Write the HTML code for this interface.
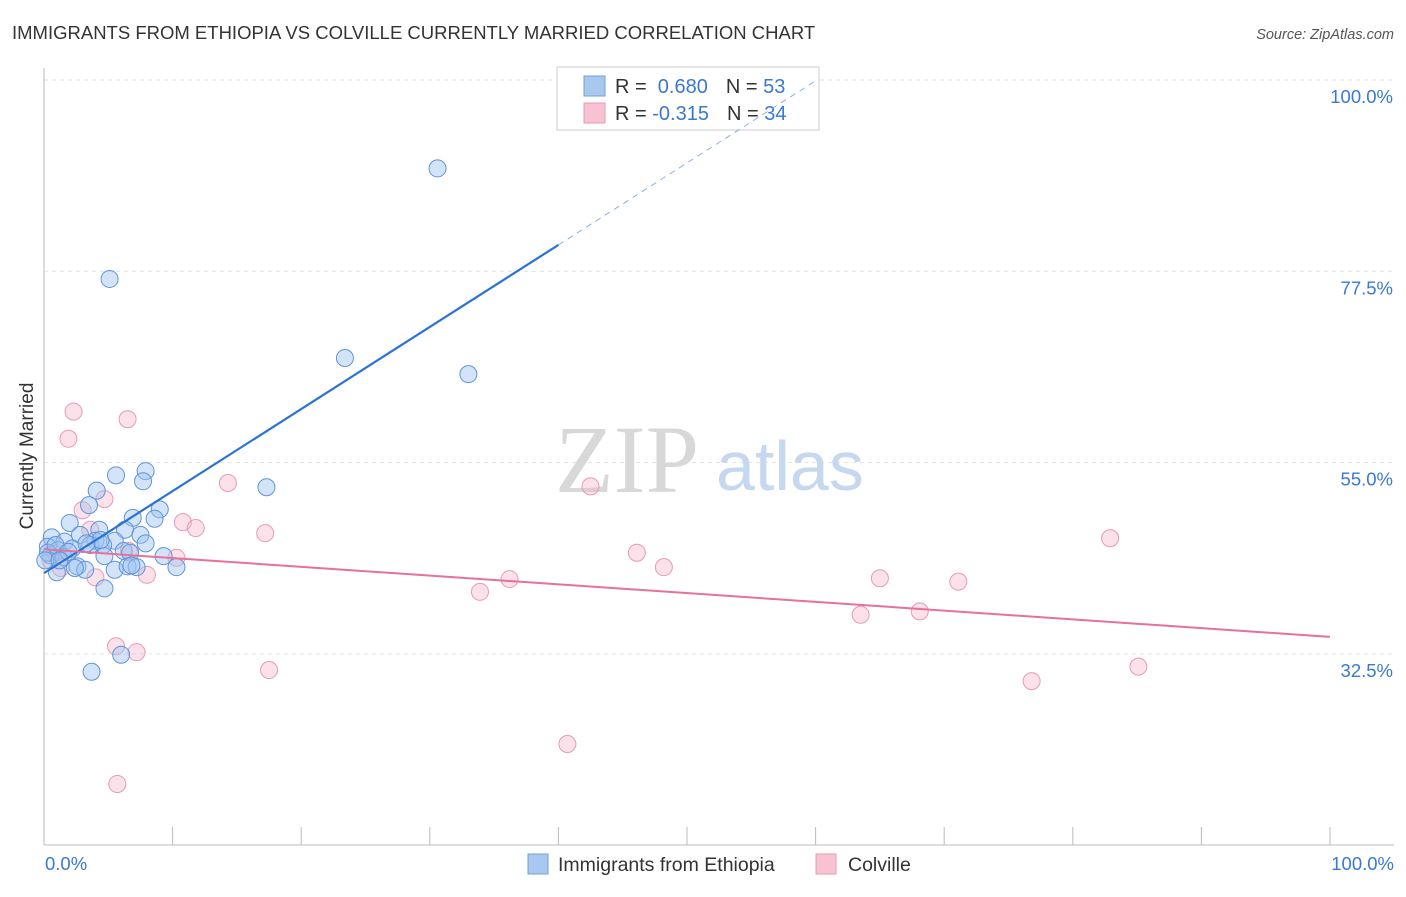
<!DOCTYPE html>
<html><head><meta charset="utf-8"><style>
body{margin:0;background:#fff;font-family:"Liberation Sans",sans-serif}
</style></head><body>
<svg width="1406" height="892" viewBox="0 0 1406 892" xmlns="http://www.w3.org/2000/svg">
<text x="12" y="39" font-size="18.5" fill="#333">IMMIGRANTS FROM ETHIOPIA VS COLVILLE CURRENTLY MARRIED CORRELATION CHART</text>
<text x="1394" y="39" font-size="14.5" fill="#555" font-style="italic" text-anchor="end">Source: ZipAtlas.com</text>
<g id="grid"></g>
<line x1="44" y1="68" x2="44" y2="845" stroke="#bbb"/>
<line x1="44" y1="845" x2="1394" y2="845" stroke="#bbb"/>
<g id="xt"></g>
<g>
<text x="555" y="492" font-family="Liberation Serif,serif" font-size="96" fill="#d8d8d8">ZIP</text>
<text x="716" y="490" font-size="70" fill="#c6d8ef">atlas</text>
</g>
<g>
<rect x="557" y="67" width="262" height="63" fill="#fff" stroke="#ccc"/>
<rect x="584" y="76" width="21" height="20" fill="#a9c8f0" stroke="#6fa0dc"/>
<rect x="584" y="103" width="21" height="20" fill="#f7c3d3" stroke="#e89ab4"/>
<text x="615" y="93" font-size="20" fill="#333">R = <tspan fill="#3a78d4">&#160;0.680</tspan><tspan dx="18">N = </tspan><tspan fill="#3a78d4">53</tspan></text>
<text x="615" y="120" font-size="20" fill="#333">R = <tspan fill="#3a78d4">-0.315</tspan><tspan dx="18">N = </tspan><tspan fill="#3a78d4">34</tspan></text>
</g>
<g id="pts"></g>
<g id="lines"></g>
<text x="33" y="456" font-size="19" fill="#333" text-anchor="middle" transform="rotate(-90 33 456)">Currently Married</text>
<text x="45" y="870" font-size="18.5" fill="#3a78d4">0.0%</text>
<text x="1394" y="870" font-size="18.5" fill="#3a78d4" text-anchor="end">100.0%</text>
<g id="yl"></g>
<g>
<rect x="528" y="854" width="20" height="20" fill="#a9c8f0" stroke="#6fa0dc"/>
<text x="558" y="871" font-size="19.5" fill="#333">Immigrants from Ethiopia</text>
<rect x="816" y="854" width="20" height="20" fill="#f7c3d3" stroke="#e89ab4"/>
<text x="848" y="871" font-size="19.5" fill="#333">Colville</text>
</g>
</svg>
<script>
const yTicks=[100,77.5,55,32.5];
const yTickLabels=["100.0%","77.5%","55.0%","32.5%"];
const xTicks=[0,10,20,30,40,50,60,70,80,90,100];
const blueX=[30.6,5.1,23.4,33.0,17.3,5.6,7.9,7.7,4.1,3.5,9.0,2.0,6.9,8.6,4.3,6.3,7.5,0.6,1.6,2.8,4.0,5.5,7.9,0.3,1.1,2.2,3.6,4.6,6.2,6.7,9.3,0.5,1.5,2.6,3.2,4.7,5.5,6.5,7.2,10.3,1.0,4.7,6.0,3.7,0.3,0.9,1.9,2.4,4.4,0.1,1.2,6.8,3.3];
const blueY=[89.6,76.6,67.3,65.4,52.1,53.5,54.0,52.8,51.7,50.0,49.5,47.9,48.5,48.4,47.1,47.1,46.5,46.2,45.7,46.5,45.8,45.8,45.5,45.1,44.7,44.9,45.3,45.3,44.6,44.4,44.0,44.1,43.9,42.8,42.4,44.0,42.4,42.8,42.7,42.7,42.1,40.2,32.4,30.4,44.4,45.3,44.5,42.6,45.9,43.5,43.5,42.9,45.5];
const pinkX=[2.3,6.5,1.9,4.7,3.0,14.3,42.5,10.8,11.8,17.2,82.9,46.1,10.3,6.6,48.2,0.9,1.3,4.0,8.0,36.2,65.0,71.1,33.9,63.5,68.1,5.6,7.2,17.5,85.1,76.8,40.7,5.7,3.6,0.5];
const pinkY=[61.0,60.1,57.8,50.7,49.4,52.6,52.2,48.0,47.3,46.7,46.1,44.4,43.8,44.6,42.7,44.4,42.6,41.5,41.8,41.3,41.4,41.0,39.8,37.1,37.5,33.4,32.7,30.6,31.0,29.3,21.9,17.2,47.1,43.5];
const blueTrend=[42.0,0.965];
const pinkTrend=[44.8,-0.103];
const NS="http://www.w3.org/2000/svg";
const sx=v=>44+v*12.86, sy=v=>80+(100-v)*8.502;
function mk(t,a,p){const e=document.createElementNS(NS,t);for(const k in a)e.setAttribute(k,a[k]);p.appendChild(e);return e;}
const grid=document.getElementById('grid'),yl=document.getElementById('yl'),xt=document.getElementById('xt');
yTicks.forEach((v,i)=>{
const l=mk('line',{x1:44,x2:1394,y1:sy(v),y2:sy(v),stroke:'#e2e2e2','stroke-dasharray':'4,4'},grid);


const t=mk('text',{x:1393,y:sy(v)+23,'font-size':18.5,fill:'#3a78d4','text-anchor':'end'},yl);
t.textContent=yTickLabels[i];


});
xTicks.forEach(v=>{
const l=mk('line',{x1:sx(v),x2:sx(v),y1:827,y2:845,stroke:'#bbb'},xt);


});
const pts=document.getElementById('pts');
pinkX.forEach((x,i)=>{
const c=mk('circle',{cx:sx(x),cy:sy(pinkY[i]),r:8.5,fill:'rgba(244,180,202,0.4)',stroke:'#e89ab4','stroke-width':1},pts);


});
blueX.forEach((x,i)=>{
const c=mk('circle',{cx:sx(x),cy:sy(blueY[i]),r:8.5,fill:'rgba(160,196,240,0.45)',stroke:'#5f95d8','stroke-width':1},pts);


});
const lines=document.getElementById('lines');
const bf=x=>blueTrend[0]+blueTrend[1]*x, pf=x=>pinkTrend[0]+pinkTrend[1]*x;
const b1=mk('line',{x1:sx(0),y1:sy(bf(0)),x2:sx(40),y2:sy(bf(40)),stroke:'#2a72d6','stroke-width':2.2},lines);


const xe=(100-blueTrend[0])/blueTrend[1];
const b2=mk('line',{x1:sx(40),y1:sy(bf(40)),x2:sx(xe),y2:sy(bf(xe)),stroke:'#8ab0e0','stroke-width':1,'stroke-dasharray':'6,5'},lines);


const p1=mk('line',{x1:sx(0),y1:sy(pf(0)),x2:sx(100),y2:sy(pf(100)),stroke:'#e8709a','stroke-width':2},lines);


</script>
</body></html>
